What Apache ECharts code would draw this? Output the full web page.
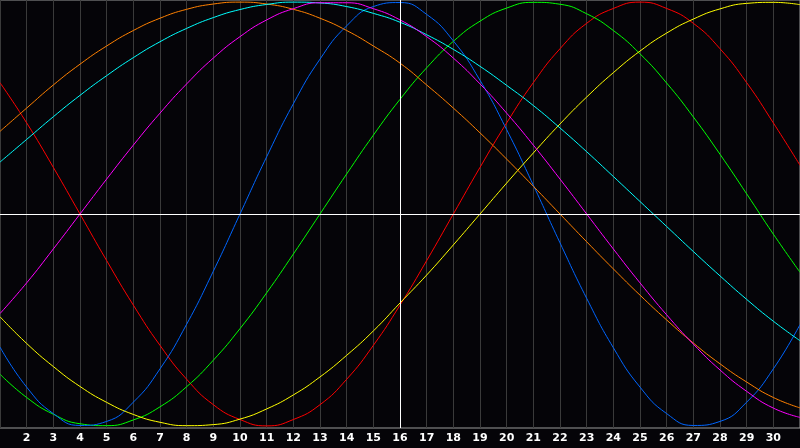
<!DOCTYPE html>
<html>
<head>
<meta charset="utf-8">
<script src="https://cdn.jsdelivr.net/npm/echarts@6/dist/echarts.min.js"></script>
<style>
  html, body { margin: 0; padding: 0; background: #050408; }
  #chart { width: 800px; height: 448px; }
</style>
</head>
<body>
<div id="chart"></div>
<script>
// day of month on the x axis
const days = [1,2,3,4,5,6,7,8,9,10,11,12,13,14,15,16,17,18,19,20,21,22,23,24,25,26,27,28,29,30,31]
const today = 16

// curve values, -1 .. 1, one per day
const red = [0.62,0.43,0.22,0,-0.22,-0.43,-0.62,-0.78,-0.90,-0.97,-1.00,-0.97,-0.90,-0.78,-0.62,-0.43,-0.22,0,0.22,0.43,0.62,0.78,0.90,0.97,1.00,0.97,0.90,0.78,0.62,0.43,0.23]
const green = [-0.756,-0.866,-0.945,-0.990,-0.999,-0.972,-0.910,-0.815,-0.690,-0.541,-0.372,-0.189,0,0.189,0.372,0.541,0.690,0.815,0.910,0.972,0.999,0.990,0.945,0.866,0.756,0.618,0.458,0.282,0.095,-0.095,-0.275]
const blue = [-0.628,-0.817,-0.942,-0.998,-0.979,-0.888,-0.731,-0.520,-0.270,0,0.270,0.520,0.731,0.888,0.979,0.998,0.942,0.817,0.631,0.398,0.136,-0.136,-0.398,-0.631,-0.817,-0.942,-0.998,-0.979,-0.888,-0.731,-0.522]
const yellow = [-0.485,-0.611,-0.720,-0.814,-0.889,-0.946,-0.983,-0.999,-0.994,-0.968,-0.920,-0.854,-0.769,-0.667,-0.552,-0.420,-0.288,-0.146,0,0.146,0.288,0.425,0.552,0.667,0.769,0.854,0.920,0.968,0.994,0.999,0.988]
const orange = [0.390,0.500,0.609,0.707,0.793,0.866,0.924,0.966,0.991,1.000,0.991,0.966,0.924,0.866,0.793,0.712,0.609,0.500,0.383,0.259,0.131,0,-0.131,-0.259,-0.383,-0.500,-0.609,-0.707,-0.793,-0.866,-0.915]
const cyan = [0.245,0.352,0.459,0.560,0.653,0.738,0.813,0.876,0.927,0.965,0.989,1.000,0.996,0.979,0.947,0.905,0.846,0.777,0.697,0.607,0.512,0.406,0.294,0.177,0.059,-0.059,-0.177,-0.292,-0.403,-0.506,-0.598]
const magenta = [-0.470,-0.325,-0.165,0,0.165,0.325,0.476,0.614,0.736,0.837,0.916,0.969,0.997,0.997,0.969,0.916,0.837,0.736,0.614,0.476,0.325,0.165,0,-0.165,-0.325,-0.476,-0.614,-0.736,-0.837,-0.916,-0.960]

const curves = [
  { name: 'red', data: red, color: '#ff0000' },
  { name: 'green', data: green, color: '#00ff00' },
  { name: 'blue', data: blue, color: '#0066ff' },
  { name: 'yellow', data: yellow, color: '#ffff00' },
  { name: 'orange', data: orange, color: '#ff8000' },
  { name: 'cyan', data: cyan, color: '#00ffff' },
  { name: 'magenta', data: magenta, color: '#ff00ff' },
]

const chart = echarts.init(document.getElementById('chart'))

const series = curves.map((c) => ({
  name: c.name,
  type: 'line',
  data: days.map((d, i) => [d, c.data[i]]),
  smooth: true,
  symbol: 'none',
  silent: true,
  lineStyle: { color: c.color, width: 1 },
  z: 3,
}))

// white cross: zero line and today marker
series.push({
  type: 'line',
  data: [],
  silent: true,
  z: 2,
  markLine: {
    silent: true,
    symbol: 'none',
    label: { show: false },
    lineStyle: { color: '#ffffff', width: 1, type: 'solid' },
    data: [{ yAxis: 0 }, { xAxis: today }],
  },
})

chart.setOption({
  backgroundColor: '#050408',
  animation: false,
  grid: {
    left: 0, right: -1, top: 0, bottom: 20,
    show: true, borderColor: '#9a9a9a', borderWidth: 1,
  },
  xAxis: {
    type: 'value',
    min: 1,
    max: 31,
    interval: 1,
    axisLine: { show: true, lineStyle: { color: '#9a9a9a' } },
    axisTick: { show: false },
    axisLabel: {
      color: '#ffffff',
      fontFamily: 'DejaVu Sans',
      fontWeight: 'bold',
      fontSize: 11,
      margin: 5,
      showMinLabel: false,
      showMaxLabel: false,
    },
    splitLine: { show: true, lineStyle: { color: '#3a3a3a', width: 1 } },
  },
  yAxis: {
    type: 'value',
    min: -1.01,
    max: 1.01,
    axisLine: { show: false },
    axisTick: { show: false },
    axisLabel: { show: false },
    splitLine: { show: false },
  },
  series,
})
</script>
</body>
</html>
